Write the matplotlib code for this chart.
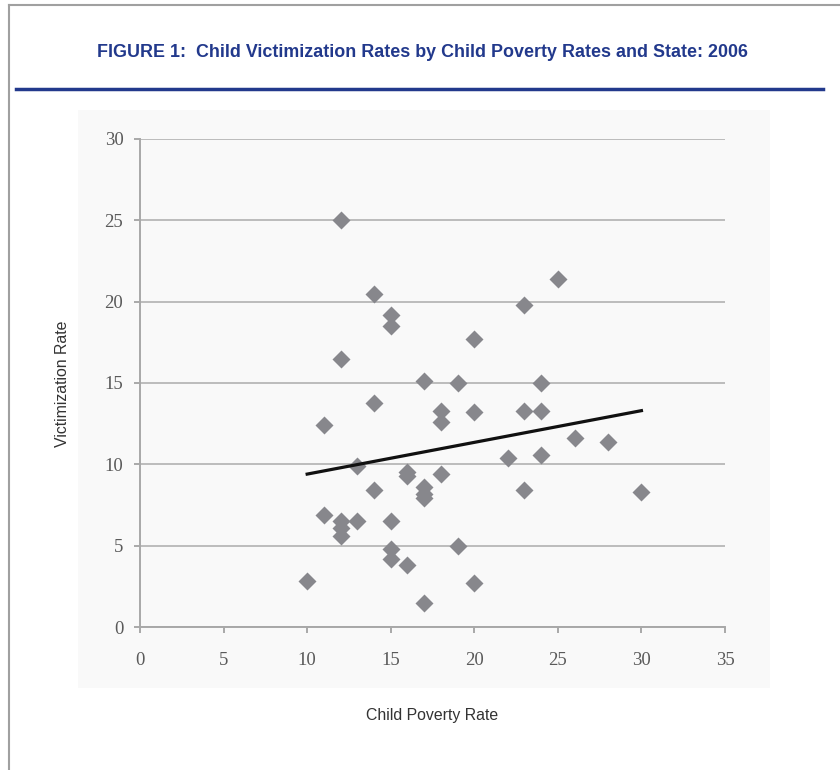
#!/usr/bin/env python

from matplotlib import pyplot as plt
from matplotlib.patches import Rectangle
import numpy as np

# child poverty rate (x) and victimization rate (y), one point per state
poverty = [10, 11, 11, 12, 12, 12, 12, 12, 13, 13, 14, 14, 14,
           15, 15, 15, 15, 15, 16, 16, 16, 17, 17, 17, 17, 17,
           18, 18, 18, 19, 19, 20, 20, 20, 22, 23, 23, 23,
           24, 24, 24, 25, 26, 28, 30]
victim = [2.8, 12.4, 6.9, 25.0, 16.5, 6.5, 6.1, 5.6, 9.9, 6.5, 20.5, 13.8, 8.4,
          19.2, 18.5, 6.5, 4.8, 4.2, 9.5, 9.3, 3.8, 15.1, 8.6, 8.2, 7.9, 1.5,
          13.3, 12.6, 9.4, 15.0, 5.0, 17.7, 13.2, 2.7, 10.4, 19.8, 13.3, 8.4,
          15.0, 13.3, 10.6, 21.4, 11.6, 11.4, 8.3]

# linear trend end points as drawn in the original
trend_x = [10, 30]
trend_y = [9.4, 13.3]

xticks = [0, 5, 10, 15, 20, 25, 30, 35]
yticks = [0, 5, 10, 15, 20, 25, 30]

title = "FIGURE 1:  Child Victimization Rates by Child Poverty Rates and State: 2006"
sans = ['Liberation Sans', 'DejaVu Sans']
navy = '#22398c'


def main():
    fig = plt.figure(figsize=(8.4, 7.7), dpi=100)

    # outer frame (only left and top edges fall inside the picture)
    fig.add_artist(plt.Line2D([0.011, 0.011], [0, 0.993], color='#a0a0a0', lw=1.5))
    fig.add_artist(plt.Line2D([0.011, 1.0], [0.993, 0.993], color='#a0a0a0', lw=1.5))

    fig.text(0.503, 0.932, title, ha='center', va='center', fontsize=12.9,
             fontweight='bold', color=navy, family=sans)
    fig.add_artist(plt.Line2D([0.019, 0.980], [0.885, 0.885], color=navy, lw=2.5))

    # faint background of the pasted chart image
    fig.add_artist(Rectangle((0.093, 0.107), 0.824, 0.750, transform=fig.transFigure,
                             facecolor='#f9f9f9', edgecolor='none', zorder=0))

    ax = fig.add_axes([0.1667, 0.1857, 0.6964, 0.6338])
    ax.set_facecolor('none')
    ax.set_xlim(0, 35)
    ax.set_ylim(0, 30)
    ax.set_xticks(xticks)
    ax.set_yticks(yticks)

    ax.grid(axis='y', color='#bcbcbc', lw=1.4, zorder=1)
    for side in ['top', 'right']:
        ax.spines[side].set_visible(False)
    for side in ['left', 'bottom']:
        ax.spines[side].set_color('#a8a8a8')
        ax.spines[side].set_linewidth(1.4)
    ax.tick_params(axis='both', colors='#a8a8a8', length=4, width=1.4,
                   labelcolor='#5a5a5a', labelsize=13.5)
    ax.tick_params(axis='x', pad=14)
    ax.tick_params(axis='y', pad=8)
    for lab in ax.get_xticklabels() + ax.get_yticklabels():
        lab.set_family('Liberation Serif')

    ax.plot(poverty, victim, linestyle='none', marker='D', ms=9,
            color='#87878c', mec='none', zorder=3)
    ax.plot(trend_x, trend_y, color='#111111', lw=2.3, zorder=4)

    fig.text(0.074, 0.502, 'Victimization Rate', rotation=90, ha='center', va='center',
             fontsize=11.4, color='#333333', family=sans)
    fig.text(0.514, 0.071, 'Child Poverty Rate', ha='center', va='center',
             fontsize=11.4, color='#333333', family=sans)

    fig.savefig('out.png', dpi=100)
    plt.close()


if __name__ == "__main__":
    main()
